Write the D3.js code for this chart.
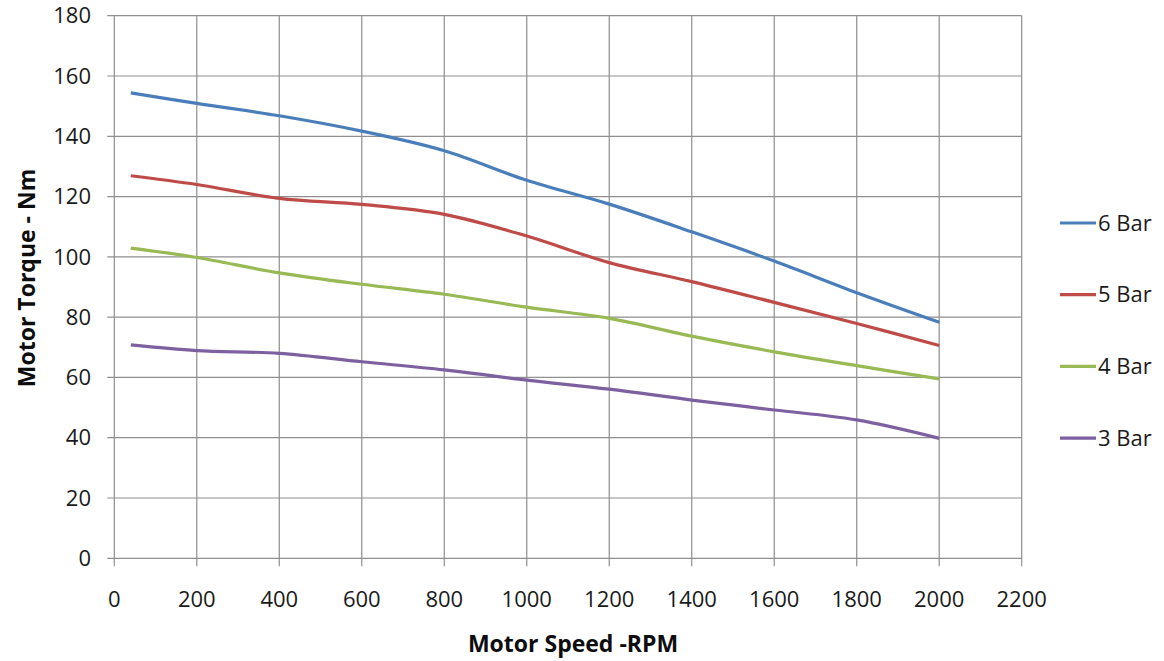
<!DOCTYPE html>
<html>
<head>
<meta charset="utf-8">
<script src="https://cdn.jsdelivr.net/npm/d3@7"></script>
<style>
  html, body { margin: 0; padding: 0; background: #fff; }
  svg { display: block; font-family: "Open Sans", Lato, sans-serif; }
</style>
</head>
<body>
<svg id="chart" width="1164" height="661"></svg>
<script>
// Motor torque vs speed, one curve per supply pressure
var speed = [40, 200, 400, 600, 800, 1000, 1200, 1400, 1600, 1800, 2000];
var bar6 = [154.4, 150.9, 146.8, 141.7, 135.2, 125.4, 117.5, 108.3, 98.6, 88.1, 78.3];
var bar5 = [126.9, 124.0, 119.4, 117.4, 114.1, 106.9, 98.1, 91.8, 84.9, 77.9, 70.6];
var bar4 = [102.9, 99.8, 94.7, 90.9, 87.6, 83.3, 79.6, 73.7, 68.5, 63.9, 59.5];
var bar3 = [70.8, 68.9, 68.0, 65.2, 62.5, 59.1, 56.1, 52.5, 49.2, 45.9, 39.8];
var seriesNames = ["6 Bar", "5 Bar", "4 Bar", "3 Bar"];
var xTicks = d3.range(0, 2201, 200);
var yTicks = d3.range(0, 181, 20);

var colors = ["#4a7ebb", "#be4b48", "#98b954", "#7d60a0"];
var series = [bar6, bar5, bar4, bar3].map(function (vals, i) {
  return { name: seriesNames[i], color: colors[i],
           pts: vals.map(function (v, j) { return [speed[j], v]; }) };
});

var svg = d3.select("#chart");
var x = d3.scaleLinear().domain([0, 2200]).range([114.3, 1021.7]);
var y = d3.scaleLinear().domain([0, 180]).range([558.3, 15.7]);
var grid = "#8f8f8f";

// gridlines + tick marks
svg.append("g").selectAll("line").data(yTicks).join("line")
  .attr("x1", x(0) - 7).attr("x2", x(2200))
  .attr("y1", function (d) { return y(d); }).attr("y2", function (d) { return y(d); })
  .attr("stroke", grid).attr("stroke-width", 1.2);
svg.append("g").selectAll("line").data(xTicks).join("line")
  .attr("y1", y(180)).attr("y2", y(0) + 8)
  .attr("x1", function (d) { return x(d); }).attr("x2", function (d) { return x(d); })
  .attr("stroke", grid).attr("stroke-width", 1.2);

// tick labels
svg.append("g").selectAll("text").data(yTicks).join("text")
  .attr("x", 91).attr("y", function (d) { return y(d); })
  .attr("dy", "0.35em").attr("text-anchor", "end")
  .attr("font-size", 22).attr("fill", "#1a1a1a")
  .text(function (d) { return d; });
svg.append("g").selectAll("text").data(xTicks).join("text")
  .attr("x", function (d) { return x(d); }).attr("y", 599)
  .attr("dy", "0.35em").attr("text-anchor", "middle")
  .attr("font-size", 22).attr("fill", "#1a1a1a")
  .text(function (d) { return d; });

// axis titles
svg.append("text").attr("x", 573).attr("y", 644).attr("dy", "0.35em")
  .attr("text-anchor", "middle").attr("font-size", 23).attr("font-weight", "bold")
  .attr("fill", "#0d0d0d").text("Motor Speed -RPM");
svg.append("text").attr("transform", "translate(27,278) rotate(-90)").attr("dy", "0.35em")
  .attr("text-anchor", "middle").attr("font-size", 23).attr("font-weight", "bold")
  .attr("fill", "#0d0d0d").text("Motor Torque - Nm");

// curves
var line = d3.line()
  .x(function (d) { return x(d[0]); })
  .y(function (d) { return y(d[1]); })
  .curve(d3.curveCatmullRom.alpha(0.5));
svg.append("g").selectAll("path").data(series).join("path")
  .attr("d", function (s) { return line(s.pts); })
  .attr("fill", "none").attr("stroke", function (s) { return s.color; })
  .attr("stroke-width", 3.2).attr("stroke-linejoin", "round");

// legend
var lg = svg.append("g").selectAll("g").data(series).join("g")
  .attr("transform", function (s, i) { return "translate(1060," + (223 + i * 71.7) + ")"; });
lg.append("line").attr("x1", 0).attr("x2", 36)
  .attr("stroke", function (s) { return s.color; }).attr("stroke-width", 3.2);
lg.append("text").attr("x", 38).attr("dy", "0.35em")
  .attr("font-size", 22).attr("fill", "#1a1a1a")
  .text(function (s) { return s.name; });
</script>
</body>
</html>
